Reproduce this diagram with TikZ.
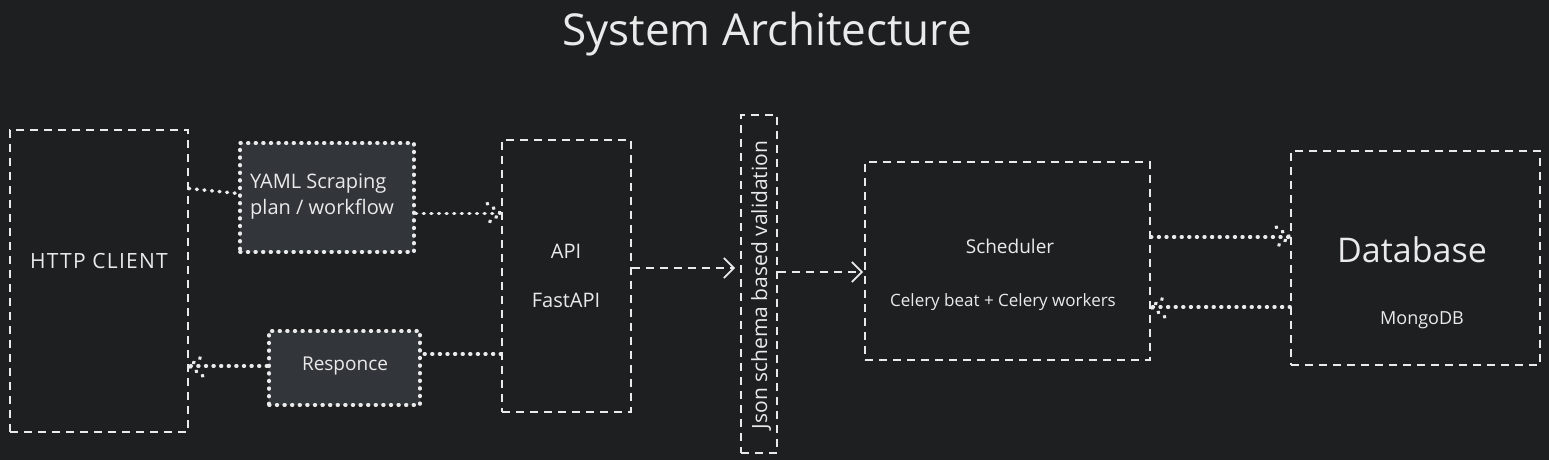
\documentclass[tikz,border=0pt]{standalone}
\usepackage{fontspec}
\setmainfont{Open Sans}
\usetikzlibrary{arrows.meta,decorations.markings}
\definecolor{bg}{RGB}{30,31,33}
\definecolor{ink}{RGB}{234,234,234}
\definecolor{boxfill}{RGB}{50,54,58}
\tikzset{
  box/.style={draw=ink, line width=1.8pt, dash pattern=on 8pt off 6pt, inner sep=0pt},
  dotbox/.style={draw=ink, fill=boxfill, line width=3.6pt, line cap=round, dash pattern=on 0.8pt off 6.8pt, inner sep=0pt},
  dotline/.style={draw=ink, line width=3.6pt, line cap=round, dash pattern=on 0.8pt off 6.8pt},
  dotarrow/.style={dotline, postaction={decorate}, decoration={markings, mark=at position 1 with {\draw[dotline] (-14pt,10pt) -- (0,0) -- (-14pt,-10pt);}}},
  dasharrow/.style={draw=ink, line width=1.8pt, dash pattern=on 8pt off 6pt, -{Straight Barb[length=10pt,width=20pt,line width=1.8pt]}},
  lbl/.style={text=ink, inner sep=0pt, font=\fontsize{20}{26}\selectfont},
}
\begin{document}
\begin{tikzpicture}[x=1pt,y=-1pt]
\fill[bg] (0,0) rectangle (1549,460);
\useasboundingbox (0,0) rectangle (1549,460);

\node[text=ink, font=\fontsize{44}{50}\selectfont] (title) at (767,34) {System Architecture};

\node[box, minimum width=178pt, minimum height=302pt] (http) at (99,281) {};
\node[lbl, font=\fontsize{21}{26}\addfontfeature{LetterSpace=6}\selectfont] (httpl) at (99,261) {HTTP CLIENT};

\node[dotbox, minimum width=174pt, minimum height=109pt] (yaml) at (327,197.5) {};
\node[lbl, align=left, anchor=west] (yamll) at (250,197) {YAML Scraping\\plan / workflow};

\node[dotbox, minimum width=151pt, minimum height=74pt] (resp) at (344.5,368) {};
\node[lbl, font=\fontsize{19}{24}\selectfont] (respl) at (345,366) {Responce};

\node[box, minimum width=129pt, minimum height=272pt] (api) at (566.5,276) {};
\node[lbl] (apil) at (566,251) {API};
\node[lbl] (fastl) at (566,300) {FastAPI};

\node[box, minimum width=36pt, minimum height=338pt] (json) at (759,284) {};
\node[lbl, rotate=90, font=\fontsize{21}{26}\selectfont] (jsonl) at (761,285) {Json schema based validation};

\node[box, minimum width=285pt, minimum height=198pt] (sched) at (1007.5,261) {};
\node[lbl, font=\fontsize{19}{24}\selectfont] (schedl) at (1010,246) {Scheduler};
\node[lbl, font=\fontsize{17}{21}\selectfont] (celeryl) at (1003,302) {Celery beat + Celery workers};

\node[box, minimum width=249pt, minimum height=214pt] (db) at (1415.5,258) {};
\node[lbl, font=\fontsize{34}{40}\selectfont] (dbl) at (1412,250) {Database};
\node[lbl, font=\fontsize{18}{22}\selectfont] (mongol) at (1422,320) {MongoDB};

% connectors
\draw[dotline] ([yshift=9pt]http.east |- yaml.west) -- ([yshift=4pt]yaml.west);
\draw[dotarrow] ([yshift=-16pt]yaml.east) -- ([yshift=-16pt]yaml.east -| api.west);
\draw[dotline] ([yshift=14pt]resp.east -| api.west) -- ([yshift=14pt]resp.east);
\draw[dotarrow] ([yshift=2pt]resp.west) -- ([yshift=2pt]resp.west -| http.east);
\draw[dasharrow, shorten >=5pt] ([yshift=8pt]api.east) -- ([yshift=8pt]api.east -| json.west);
\draw[dasharrow, shorten >=1pt] ([yshift=12pt]json.east) -- ([yshift=12pt]json.east -| sched.west);
\draw[dotarrow] ([yshift=24pt]sched.east) -- ([yshift=24pt]sched.east -| db.west);
\draw[dotarrow] ([yshift=-46pt]sched.east -| db.west) -- ([yshift=-46pt]sched.east);
\end{tikzpicture}
\end{document}
